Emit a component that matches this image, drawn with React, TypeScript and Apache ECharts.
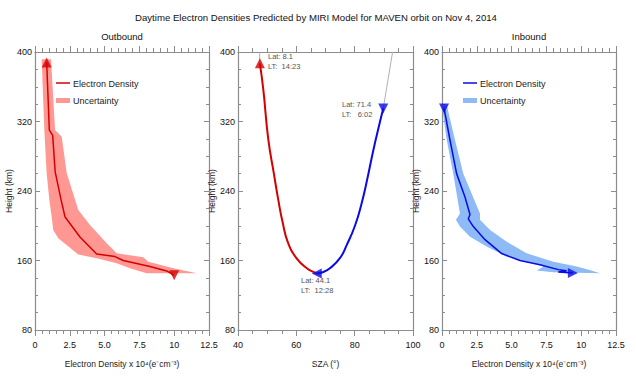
import React, { useEffect, useRef } from "react";
import * as echarts from "echarts";

// ---- Outbound (left panel) ----
const outboundDensity = [0.84, 1.03, 1.27, 1.45, 1.87, 2.16, 3.23, 4.43, 5.75, 6.34, 8.26, 9.46, 10.0];
const outboundHeight = [388, 310, 304, 262, 230, 210, 187, 167.5, 164.5, 160, 153, 148, 143];
const outboundBandX = [0.48, 0.67, 0.84, 1.03, 1.2, 1.31, 1.67, 3.11, 4.43, 5.87, 6.82, 8.02, 11.62, 9.94, 8.14, 7.78, 5.87, 5.15, 3.95, 3.11, 2.28, 1.92, 1.44, 1.15];
const outboundBandY = [391.6, 310, 260, 229.6, 210, 195, 185.6, 167, 162.5, 156.8, 151, 145.3, 145.3, 151, 158.6, 163.7, 168.3, 179.8, 200.9, 218, 260.4, 302.5, 310.2, 391.6];

// ---- Inbound (right panel) ----
const inboundDensity = [0.15, 0.57, 1.05, 1.65, 2.01, 1.89, 2.25, 3.09, 4.29, 5.6, 7.04, 8.36, 8.95, 8.35, 9.4];
const inboundHeight = [335, 299, 260, 233, 213, 208, 199, 184, 168, 160, 155, 149.5, 148.3, 146.8, 145.5];
const inboundBandX = [0.0, 0.34, 0.81, 1.29, 1.0, 1.29, 2.01, 3.21, 4.65, 6.08, 7.3, 6.8, 8.0, 11.35, 10.6, 9.68, 8.0, 6.08, 4.65, 3.45, 2.73, 2.73, 1.53, 0.93, 0.34];
const inboundBandY = [337, 299, 260, 214, 207, 199, 187.4, 176, 164.4, 158.6, 153, 148.5, 146.5, 145.3, 149, 153, 158.6, 168.3, 181.7, 195, 207, 214, 260, 299, 339];

// ---- SZA (middle panel) ----
const outSza = [47.5, 48.7, 50.4, 52.3, 53.8, 55.3, 57.2, 60.1, 63.6, 66.4, 67.0];
const outSzaHeight = [387, 356, 299, 260, 230, 204, 180, 162.5, 151, 146, 145];
const inSza = [67.0, 69.0, 71.5, 75.0, 77.3, 80.1, 82.4, 84.4, 86.4, 88.7, 89.8];
const inSzaHeight = [145, 146.5, 151, 163, 178, 200, 226, 255, 287, 320, 335];
const outTrailSza = [47.4, 47.5];
const outTrailHeight = [400, 387];
const inTrailSza = [89.8, 93.0];
const inTrailHeight = [335, 400];

const heightTicks = { min: 80, max: 400, interval: 80 };
const densityTicks = { min: 0, max: 12.5, interval: 2.5 };
const szaTicks = { min: 40, max: 100, interval: 20 };

const RED = "#d40000";
const RED_BAND = "#ff9893";
const BLUE = "#0a0ae6";
const BLUE_BAND = "#8ebaf6";
const AXIS = "#8c8c8c";
const FONT = "Liberation Sans, Arial, sans-serif";

const zip = (xs: number[], ys: number[]) => xs.map((x, i) => [x, ys[i]]);

function densityFmt(v: number) {
  if (v === 0) return "0";
  if (v === 10) return "10";
  return v.toFixed(1);
}

function xAxis(gridIndex: number, position: string, ticks: any, minorSplit: number, labels: boolean, name: string, fmt?: any) {
  return {
    type: "value",
    gridIndex,
    position,
    ...ticks,
    name: labels ? name : "",
    nameLocation: "middle",
    nameGap: 29,
    nameTextStyle: { color: "#222", fontSize: 8.5, fontFamily: FONT },
    axisLine: { show: true, onZero: false, lineStyle: { color: AXIS, width: 1.2 } },
    axisTick: { show: true, inside: false, length: 6, lineStyle: { color: AXIS, width: 1 } },
    minorTick: { show: true, splitNumber: minorSplit, length: 4, lineStyle: { color: AXIS, width: 1 } },
    splitLine: { show: false },
    axisLabel: { show: labels, color: "#111", fontSize: 9, fontFamily: FONT, margin: 10, formatter: fmt },
  };
}

function yAxis(gridIndex: number, position: string, labels: boolean) {
  return {
    type: "value",
    gridIndex,
    position,
    ...heightTicks,
    name: labels ? "Height (km)" : "",
    nameLocation: "middle",
    nameRotate: 90,
    nameGap: 20,
    nameTextStyle: { color: "#222", fontSize: 8.5, fontFamily: FONT },
    axisLine: { show: true, onZero: false, lineStyle: { color: AXIS, width: 1.2 } },
    axisTick: { show: true, inside: true, length: 5, lineStyle: { color: AXIS, width: 1 } },
    minorTick: { show: true, splitNumber: 4, length: 3, lineStyle: { color: AXIS, width: 1 } },
    splitLine: { show: false },
    axisLabel: { show: labels, color: "#111", fontSize: 9, fontFamily: FONT, margin: 3 },
  };
}

function bandSeries(xs: number[], ys: number[], color: string, axisIdx: number) {
  const pts = zip(xs, ys);
  return {
    type: "custom",
    xAxisIndex: axisIdx,
    yAxisIndex: axisIdx,
    clip: true,
    z: 1,
    data: [pts[0]],
    renderItem: (_params: any, api: any) => ({
      type: "polygon",
      shape: { points: pts.map((p) => api.coord(p)) },
      style: { fill: color },
    }),
  };
}

function lineSeries(xs: number[], ys: number[], color: string, width: number, axisIdx: number, smooth = false) {
  return {
    type: "line",
    xAxisIndex: axisIdx,
    yAxisIndex: axisIdx,
    data: zip(xs, ys),
    showSymbol: false,
    symbol: "none",
    smooth,
    clip: true,
    z: 3,
    lineStyle: { color, width },
  };
}

function marker(x: number, y: number, color: string, rotate: number, axisIdx: number, size = 10) {
  return {
    type: "scatter",
    xAxisIndex: axisIdx,
    yAxisIndex: axisIdx,
    data: [[x, y]],
    symbol: "triangle",
    symbolSize: size,
    symbolRotate: rotate,
    itemStyle: { color },
    z: 5,
  };
}

function legend(x: number, line: string, band: string) {
  return [
    { type: "line", shape: { x1: x, y1: 83, x2: x + 14, y2: 83 }, style: { stroke: line, lineWidth: 1.5 } },
    { type: "text", x: x + 17, y: 84, style: { text: "Electron Density", fill: "#222", font: `9px ${FONT}`, verticalAlign: "middle" } },
    { type: "rect", shape: { x, y: 98, width: 14, height: 5 }, style: { fill: band } },
    { type: "text", x: x + 17, y: 101, style: { text: "Uncertainty", fill: "#222", font: `9px ${FONT}`, verticalAlign: "middle" } },
  ];
}

function note(x: number, y: number, a: string, b: string) {
  return [
    { type: "text", x, y, style: { text: a, fill: "#555", font: `7.5px ${FONT}`, verticalAlign: "middle" } },
    { type: "text", x, y: y + 10, style: { text: b, fill: "#555", font: `7.5px ${FONT}`, verticalAlign: "middle" } },
  ];
}

export default function App() {
  const ref = useRef<HTMLDivElement>(null);
  useEffect(() => {
    if (!ref.current) return;
    const chart = echarts.init(ref.current, null, { renderer: "svg" });
    const densityName = "Electron Density x 10\u2074(e\u207Bcm\u207B\u00B3)";
    chart.setOption({
      animation: false,
      backgroundColor: "#fff",
      grid: [
        { left: 35, top: 52, width: 174, height: 278 },
        { left: 238, top: 52, width: 175, height: 278 },
        { left: 442, top: 52, width: 174, height: 278 },
      ],
      xAxis: [
        xAxis(0, "bottom", densityTicks, 5, true, densityName, densityFmt),
        xAxis(0, "top", densityTicks, 5, false, ""),
        xAxis(1, "bottom", szaTicks, 4, true, "SZA (\u00B0)"),
        xAxis(1, "top", szaTicks, 4, false, ""),
        xAxis(2, "bottom", densityTicks, 5, true, densityName, densityFmt),
        xAxis(2, "top", densityTicks, 5, false, ""),
      ],
      yAxis: [
        yAxis(0, "left", true),
        yAxis(0, "right", false),
        yAxis(1, "left", true),
        yAxis(1, "right", false),
        yAxis(2, "left", true),
        yAxis(2, "right", false),
      ],
      graphic: [
        { type: "text", x: 316, y: 17, style: { text: "Daytime Electron Densities Predicted by MIRI Model for MAVEN orbit on Nov 4, 2014", fill: "#111", font: `9.6px ${FONT}`, align: "center", verticalAlign: "middle" } },
        { type: "text", x: 122, y: 36, style: { text: "Outbound", fill: "#111", font: `9.5px ${FONT}`, align: "center", verticalAlign: "middle" } },
        { type: "text", x: 529, y: 36, style: { text: "Inbound", fill: "#111", font: `9.5px ${FONT}`, align: "center", verticalAlign: "middle" } },
        ...legend(56, RED, RED_BAND),
        ...legend(463, BLUE, BLUE_BAND),
        ...note(268, 56, "Lat: 8.1", "LT:  14:23"),
        ...note(342, 104, "Lat: 71.4", "LT:   6:02"),
        ...note(301, 280, "Lat: 44.1", "LT:  12:28"),
      ],
      series: [
        bandSeries(outboundBandX, outboundBandY, RED_BAND, 0),
        lineSeries(outboundDensity, outboundHeight, RED, 1.5, 0),
        marker(outboundDensity[0], outboundHeight[0], RED, 0, 0),
        marker(outboundDensity[outboundDensity.length - 1], outboundHeight[outboundHeight.length - 1], RED, 180, 0),

        lineSeries(outTrailSza, outTrailHeight, "#b0b0b0", 1, 2),
        lineSeries(inTrailSza, inTrailHeight, "#b0b0b0", 1, 2),
        lineSeries(outSza, outSzaHeight, RED, 2, 2, true),
        lineSeries(inSza, inSzaHeight, BLUE, 2, 2, true),
        marker(outSza[0], outSzaHeight[0], RED, 0, 2),
        marker(inSza[inSza.length - 1], inSzaHeight[inSzaHeight.length - 1], BLUE, 180, 2),
        marker(inSza[0], inSzaHeight[0], BLUE, 90, 2),

        bandSeries(inboundBandX, inboundBandY, BLUE_BAND, 4),
        lineSeries(inboundDensity, inboundHeight, BLUE, 1.5, 4),
        marker(inboundDensity[0], inboundHeight[0], BLUE, 180, 4),
        marker(inboundDensity[inboundDensity.length - 1], inboundHeight[inboundHeight.length - 1], BLUE, -90, 4),
      ],
    });
    return () => chart.dispose();
  }, []);
  return <div ref={ref} style={{ width: 636, height: 384, position: "fixed", left: 0, top: 0 }} />;
}
